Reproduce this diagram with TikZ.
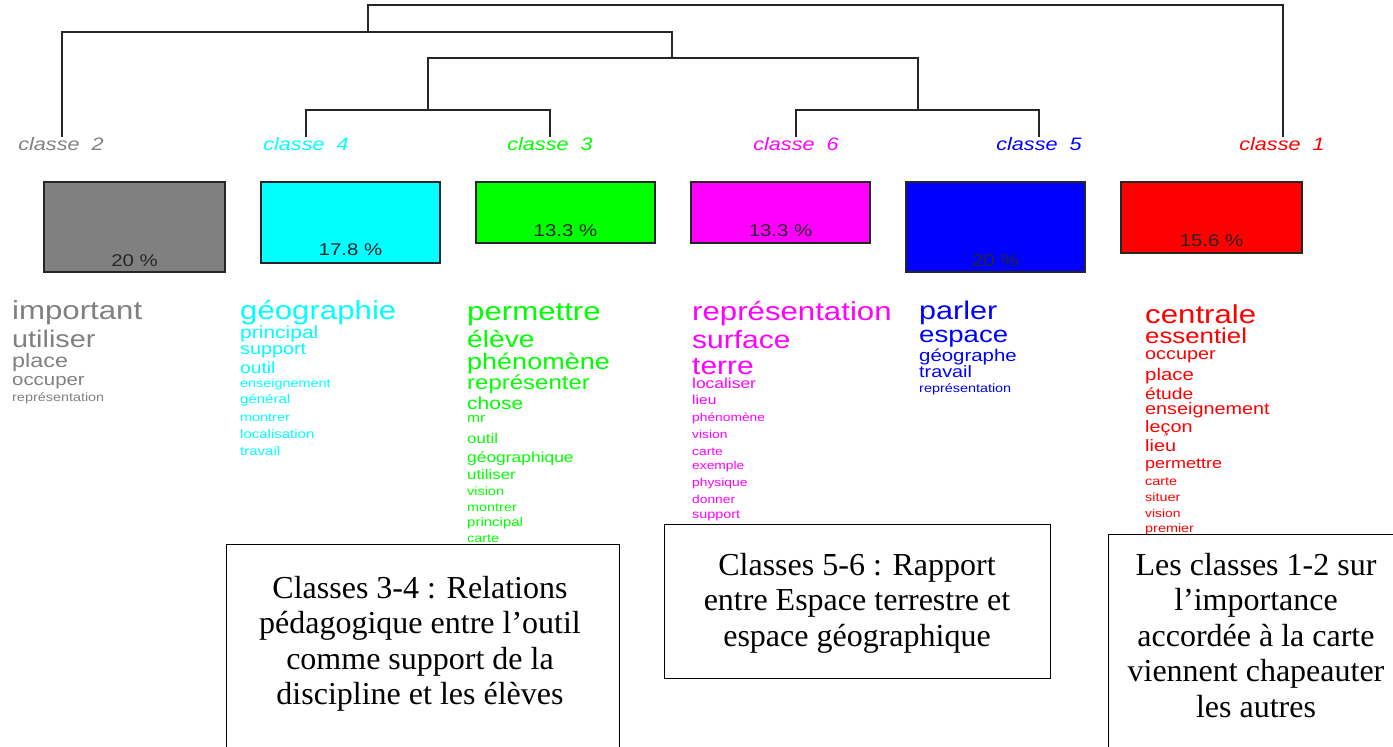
\documentclass[tikz,border=0pt]{standalone}
\usepackage{fontspec}
\usepackage{graphicx}
\setmainfont{Liberation Serif}
\newfontfamily\arialf{Liberation Sans}
\definecolor{cgray}{HTML}{808080}
\definecolor{ccyan}{HTML}{00FFFF}
\definecolor{cgreen}{HTML}{00FF00}
\definecolor{cmag}{HTML}{FF00FF}
\definecolor{cblue}{HTML}{0000FF}
\definecolor{cred}{HTML}{FF0000}
\newcommand\wlist[4]{%
  \foreach \wt/\ws/\wy [count=\wi] in {#4} {%
    \node[wordn, text=#3] (#1\wi) at (#2,\wy) {\fontsize{\ws}{\ws}\selectfont\vrule height .72em depth -.02em width 0pt\smash{\scalebox{1.2}[1]{\wt}}};}}
\begin{document}
\begin{tikzpicture}[x=1pt,y=-1pt,
  dend/.style={draw=black!85, line width=1.3pt},
  bar/.style={draw=black!85, line width=1.4pt},
  wordn/.style={inner sep=0pt, anchor=west, font=\arialf},
  lab/.style={inner sep=0pt, font=\arialf\itshape\fontsize{18}{18}\selectfont},
  pct/.style={inner sep=0pt, text=black!85, font=\arialf\fontsize{17}{17}\selectfont},
  note/.style={draw=black, line width=1pt, fill=white},
  notetext/.style={inner sep=0pt, align=center, anchor=north, font=\fontsize{32}{35.5}\selectfont}]
\useasboundingbox (0,0) rectangle (1393,747);
% dendrogram
\coordinate (t2) at (62,137);
\coordinate (t4) at (306,137);
\coordinate (t3) at (550,137);
\coordinate (t6) at (796,137);
\coordinate (t5) at (1039,137);
\coordinate (t1) at (1283,137);
\coordinate (m34) at (428,110);
\coordinate (m56) at (918,110);
\coordinate (m3456) at (672,58);
\coordinate (m23456) at (368,32);
\coordinate (mall) at (826,5);
\draw[dend] (t4) |- (m34) -| (t3);
\draw[dend] (t6) |- (m56) -| (t5);
\draw[dend] (m34) |- (m3456) -| (m56);
\draw[dend] (t2) |- (m23456) -| (m3456);
\draw[dend] (m23456) |- (mall) -| (t1);
% class labels
\node[lab, text=cgray]  (l2) at (61,144)   {\scalebox{1.2}[1]{classe\ \ 2}};
\node[lab, text=ccyan]  (l4) at (306,144)  {\scalebox{1.2}[1]{classe\ \ 4}};
\node[lab, text=cgreen] (l3) at (550,144)  {\scalebox{1.2}[1]{classe\ \ 3}};
\node[lab, text=cmag]   (l6) at (796,144)  {\scalebox{1.2}[1]{classe\ \ 6}};
\node[lab, text=cblue]  (l5) at (1039,144) {\scalebox{1.2}[1]{classe\ \ 5}};
\node[lab, text=cred]   (l1) at (1282,144) {\scalebox{1.2}[1]{classe\ \ 1}};
% bars
\draw[bar, fill=cgray]  (44,182) rectangle (225,272);
\draw[bar, fill=ccyan]  (261,182) rectangle (440,263);
\draw[bar, fill=cgreen] (476,182) rectangle (655,243);
\draw[bar, fill=cmag]   (691,182) rectangle (870,243);
\draw[bar, fill=cblue]  (906,182) rectangle (1085,272);
\draw[bar, fill=cred]   (1121,182) rectangle (1302,253);
\node[pct] (p2) at (134.5,261) {\scalebox{1.2}[1]{20 \%}};
\node[pct] (p4) at (350.5,250) {\scalebox{1.2}[1]{17.8 \%}};
\node[pct] (p3) at (565.5,231) {\scalebox{1.2}[1]{13.3 \%}};
\node[pct] (p6) at (780.5,231) {\scalebox{1.2}[1]{13.3 \%}};
\node[pct] (p5) at (995.5,261) {\scalebox{1.2}[1]{20 \%}};
\node[pct] (p1) at (1211.5,241) {\scalebox{1.2}[1]{15.6 \%}};
% word lists
\wlist{wa}{12}{cgray}{important/26/310, utiliser/24/339, place/19.5/360, occuper/17/379, représentation/12/397}
\wlist{wb}{240}{ccyan}{géographie/26/310, principal/17.5/332, support/16.5/349, outil/16/368, enseignement/12/383, général/12.5/399, montrer/12/417, localisation/12.5/434, travail/12.5/451}
\wlist{wc}{467}{cgreen}{permettre/26/311, élève/23.5/339, phénomène/22.5/361, représenter/20/382, chose/17.5/403, mr/13/418, outil/14/438, géographique/14.5/457, utiliser/14/474, vision/12/491, montrer/12/507, principal/12.5/522, carte/12/538}
\wlist{wd}{692}{cmag}{représentation/26/311, surface/25/339, terre/25/365, localiser/14.5/383, lieu/13/400, phénomène/11.5/417, vision/11.5/434, carte/11.5/451, exemple/11.5/465, physique/11.5/482, donner/11.5/499, support/12/514}
\wlist{we}{919}{cblue}{parler/25.5/310, espace/23/334, géographe/17/355, travail/16.5/372, représentation/12/388}
\wlist{wf}{1145}{cred}{centrale/26/314, essentiel/21.5/336, occuper/16.5/354, place/17/374, étude/16/394, enseignement/16.5/409, leçon/16.5/427, lieu/16.5/446, permettre/15/463, carte/12/481, situer/12/497, vision/11.5/513, premier/12/528}
% notes
\draw[note] (226,544) rectangle (619,760);
\draw[note] (664,524) rectangle (1050,678);
\draw[note] (1108,534) rectangle (1400,760);
\node[notetext] (n1) at (420,576) {Classes 3-4 : Relations\\pédagogique entre l’outil\\comme support de la\\discipline et les élèves};
\node[notetext] (n2) at (857,553) {Classes 5-6 : Rapport\\entre Espace terrestre et\\espace géographique};
\node[notetext] (n3) at (1256,553) {Les classes 1-2 sur\\l’importance\\accordée à la carte\\viennent chapeauter\\les autres};
\end{tikzpicture}
\end{document}
